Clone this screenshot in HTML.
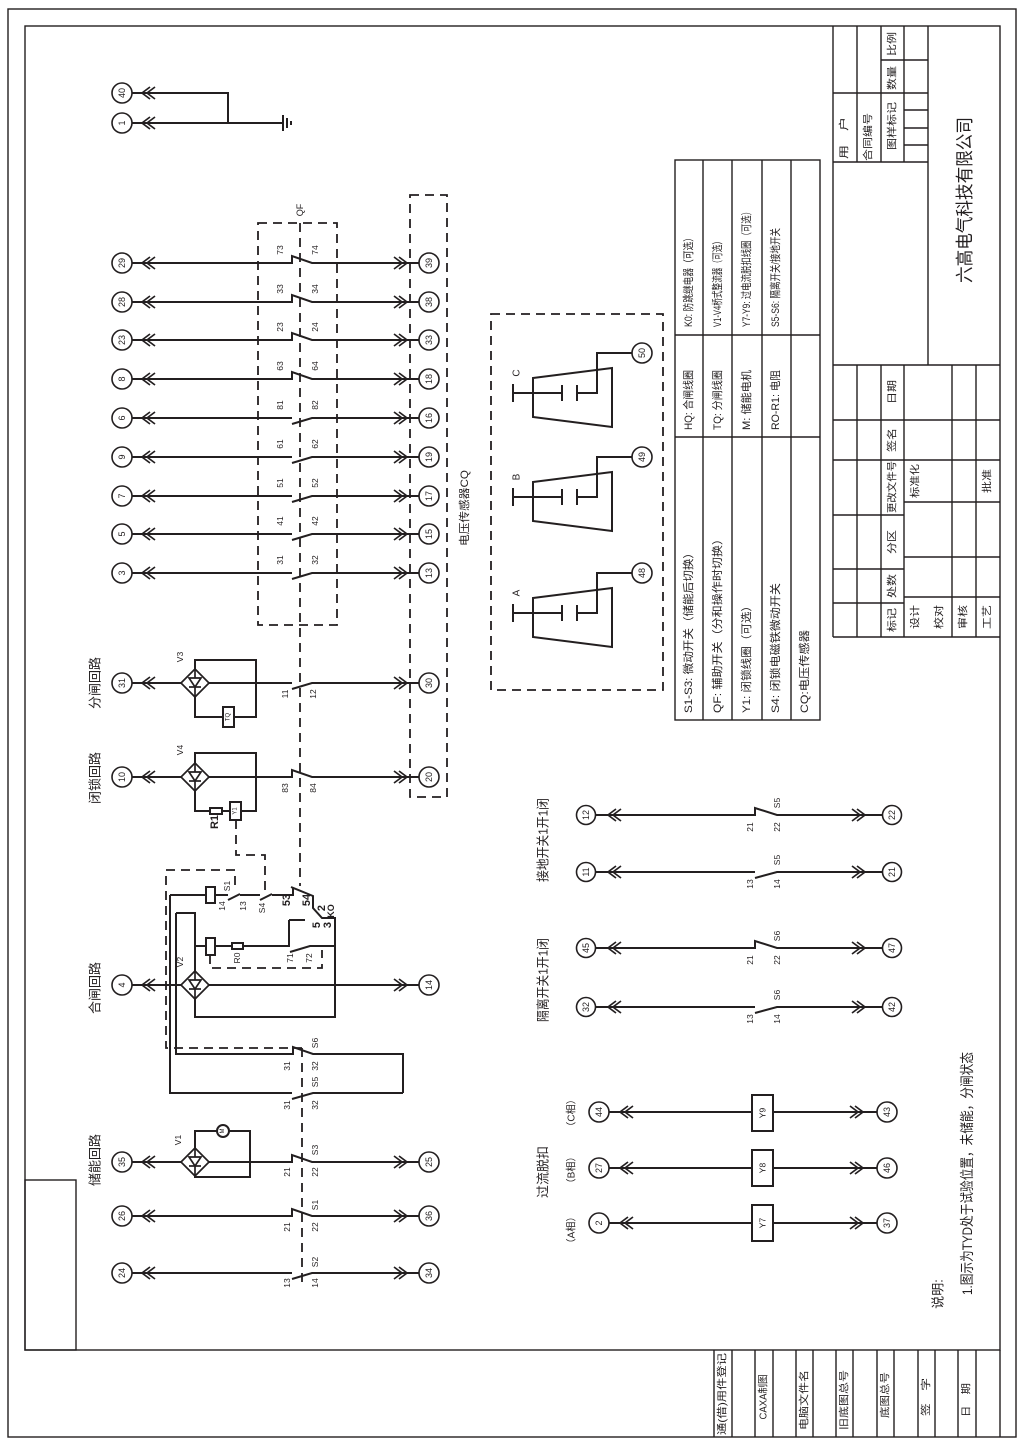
<!DOCTYPE html>
<html><head><meta charset="utf-8">
<style>
html,body{margin:0;padding:0;background:#fff;}
svg{display:block;}
.w{fill:none;stroke:#231f20;stroke-width:2;}
.f{fill:none;stroke:#231f20;stroke-width:1.4;}
.d{fill:none;stroke:#231f20;stroke-width:1.8;stroke-dasharray:9 6;}
.tc{fill:#fff;stroke:#231f20;stroke-width:1.6;}
text{fill:#231f20;font-family:"Liberation Sans Narrow","Liberation Sans","Noto Sans CJK SC",sans-serif;}
.m{text-anchor:middle;dominant-baseline:central;}
.s{text-anchor:start;dominant-baseline:central;}
.n9{font-size:9px;}
.n8{font-size:8.5px;}
.b{font-weight:bold;font-size:11px;}
.c13{font-size:13px;font-family:"Liberation Sans","Noto Sans CJK SC",sans-serif;}
.c11{font-size:11px;font-family:"Liberation Sans","Noto Sans CJK SC",sans-serif;}
.c10{font-size:10px;font-family:"Liberation Sans","Noto Sans CJK SC",sans-serif;}
</style></head>
<body>
<svg width="1024" height="1446" viewBox="0 0 1024 1446" xmlns="http://www.w3.org/2000/svg">
<defs>
<g id="cl" fill="none" stroke="#231f20" stroke-width="1.7"><polyline points="8,-6 0,0 8,6"/><polyline points="13,-6 5,0 13,6"/></g>
<g id="cr" fill="none" stroke="#231f20" stroke-width="1.7"><polyline points="-8,-6 0,0 -8,6"/><polyline points="-13,-6 -5,0 -13,6"/></g>
<g id="dm" fill="#fff" stroke="#231f20" stroke-width="1.7"><polygon points="-14,0 0,-14 14,0 0,14"/><line x1="0" y1="-14" x2="0" y2="14"/><polygon points="-6,-5 6,-5 0,4"/><line x1="-6" y1="4" x2="6" y2="4"/></g>
</defs>

<!-- frames -->
<rect x="8" y="9" width="1008" height="1428" class="f" stroke-width="1.6"/>
<rect x="25" y="26" width="975" height="1324" class="f" stroke-width="1.8"/>
<path class="f" stroke-width="1.8" d="M1000,1350V1437"/>
<rect x="25" y="1180" width="51" height="170" class="f" stroke-width="1.6"/>

<!-- bottom strip -->
<path class="f" d="M714,1350V1437M732,1350V1437M755,1350V1437M773,1350V1437M796,1350V1437M813,1350V1437M836,1350V1437M853,1350V1437M877,1350V1437M894,1350V1437M918,1350V1437M935,1350V1437M958,1350V1437M976,1350V1437"/>
<g class="c10 m">
<text transform="translate(723,1394) rotate(-90)" textLength="82" lengthAdjust="spacingAndGlyphs">通(借)用件登记</text>
<text transform="translate(764,1397) rotate(-90)" textLength="45" lengthAdjust="spacingAndGlyphs">CAXA制图</text>
<text transform="translate(805,1400) rotate(-90)" textLength="60" lengthAdjust="spacingAndGlyphs">电脑文件名</text>
<text transform="translate(845,1400) rotate(-90)" textLength="60" lengthAdjust="spacingAndGlyphs">旧底图总号</text>
<text transform="translate(886,1395) rotate(-90)" textLength="46" lengthAdjust="spacingAndGlyphs">底图总号</text>
<text transform="translate(927,1397) rotate(-90)" textLength="38" lengthAdjust="spacingAndGlyphs">签　字</text>
<text transform="translate(967,1400) rotate(-90)" textLength="34" lengthAdjust="spacingAndGlyphs">日　期</text>
</g>

<!-- title block -->
<path class="f" stroke-width="1.6" d="M833,26V637M928,26V365M833,365H1000M833,637H1000
M857,26V162M881,26V162M904,26V162M833,93H928M833,162H928M881,60H928M904,110H928M904,128H928M904,145H928
M857,365V637M881,365V637M904,365V637M952,365V637M976,365V637
M833,420H1000M833,460H1000M904,502H1000M833,515H904M904,557H1000M833,569H904M904,597H1000M833,603H904"/>
<g class="c10 m">
<text transform="translate(845,138) rotate(-90)" textLength="42" lengthAdjust="spacingAndGlyphs">用　户</text>
<text transform="translate(869,137) rotate(-90)" textLength="48" lengthAdjust="spacingAndGlyphs">合同编号</text>
<text transform="translate(893,126) rotate(-90)" textLength="48" lengthAdjust="spacingAndGlyphs">图样标记</text>
<text transform="translate(893,78) rotate(-90)" textLength="24" lengthAdjust="spacingAndGlyphs">数量</text>
<text transform="translate(893,44) rotate(-90)" textLength="24" lengthAdjust="spacingAndGlyphs">比例</text>
<text transform="translate(893,392) rotate(-90)" textLength="24" lengthAdjust="spacingAndGlyphs">日期</text>
<text transform="translate(893,440) rotate(-90)" textLength="24" lengthAdjust="spacingAndGlyphs">签名</text>
<text transform="translate(893,487) rotate(-90)" textLength="52" lengthAdjust="spacingAndGlyphs">更改文件号</text>
<text transform="translate(916,481) rotate(-90)" textLength="34" lengthAdjust="spacingAndGlyphs">标准化</text>
<text transform="translate(988,481) rotate(-90)" textLength="24" lengthAdjust="spacingAndGlyphs">批准</text>
<text transform="translate(893,542) rotate(-90)" textLength="24" lengthAdjust="spacingAndGlyphs">分区</text>
<text transform="translate(893,586) rotate(-90)" textLength="24" lengthAdjust="spacingAndGlyphs">处数</text>
<text transform="translate(893,620) rotate(-90)" textLength="24" lengthAdjust="spacingAndGlyphs">标记</text>
<text transform="translate(916,617) rotate(-90)" textLength="24" lengthAdjust="spacingAndGlyphs">设计</text>
<text transform="translate(940,617) rotate(-90)" textLength="24" lengthAdjust="spacingAndGlyphs">校对</text>
<text transform="translate(964,617) rotate(-90)" textLength="24" lengthAdjust="spacingAndGlyphs">审核</text>
<text transform="translate(988,617) rotate(-90)" textLength="24" lengthAdjust="spacingAndGlyphs">工艺</text>
</g>
<text class="m" style="font-size:18px;font-family:'Liberation Sans','Noto Sans CJK SC',sans-serif" transform="translate(965,200) rotate(-90)" textLength="166" lengthAdjust="spacingAndGlyphs">六高电气科技有限公司</text>

<!-- legend table -->
<rect x="675" y="160" width="145" height="560" class="f" stroke-width="1.8"/>
<path class="f" stroke-width="1.6" d="M703,160V720M732,160V720M762,160V720M791,160V720M675,335H820M675,437H820"/>
<g class="c11 s">
<text transform="translate(689,327) rotate(-90)" textLength="94" lengthAdjust="spacingAndGlyphs">K0: 防跳继电器（可选）</text>
<text transform="translate(718,327) rotate(-90)" textLength="90" lengthAdjust="spacingAndGlyphs">V1-V4桥式整流器（可选）</text>
<text transform="translate(747,327) rotate(-90)" textLength="120" lengthAdjust="spacingAndGlyphs">Y7-Y9: 过电流脱扣线圈（可选）</text>
<text transform="translate(776,327) rotate(-90)" textLength="99" lengthAdjust="spacingAndGlyphs">S5-S6: 隔离开关/接地开关</text>
<text transform="translate(689,430) rotate(-90)" textLength="60" lengthAdjust="spacingAndGlyphs">HQ: 合闸线圈</text>
<text transform="translate(718,430) rotate(-90)" textLength="60" lengthAdjust="spacingAndGlyphs">TQ: 分闸线圈</text>
<text transform="translate(747,430) rotate(-90)" textLength="60" lengthAdjust="spacingAndGlyphs">M: 储能电机</text>
<text transform="translate(776,430) rotate(-90)" textLength="60" lengthAdjust="spacingAndGlyphs">RO-R1: 电阻</text>
<text transform="translate(689,713) rotate(-90)" textLength="166" lengthAdjust="spacingAndGlyphs">S1-S3: 微动开关（储能后切换）</text>
<text transform="translate(718,713) rotate(-90)" textLength="180" lengthAdjust="spacingAndGlyphs">QF: 辅助开关（分和操作时切换）</text>
<text transform="translate(747,713) rotate(-90)" textLength="113" lengthAdjust="spacingAndGlyphs">Y1: 闭锁线圈（可选）</text>
<text transform="translate(776,713) rotate(-90)" textLength="130" lengthAdjust="spacingAndGlyphs">S4: 闭锁电磁铁微动开关</text>
<text transform="translate(805,713) rotate(-90)" textLength="83" lengthAdjust="spacingAndGlyphs">CQ:电压传感器</text>
</g>

<!-- ground + 40/1 -->
<path class="w" d="M132,93H228V123M132,123H283M283,115V131M287,118V128M291,121V125"/>
<use href="#cl" x="142" y="93"/><use href="#cl" x="142" y="123"/>

<!-- QF rows -->
<path class="w" d="M132,263H292V256L312,263H419
M132,302H292V295L312,302H419
M132,340H292V333L312,340H419
M132,379H292V372L312,379H419
M132,418H292M292,424L312,418H419
M132,457H292M292,463L312,457H419
M132,496H292M292,502L312,496H419
M132,534H292M292,540L312,534H419
M132,573H292M292,579L312,573H419"/>
<g>
<use href="#cl" x="142" y="263"/><use href="#cl" x="142" y="302"/><use href="#cl" x="142" y="340"/><use href="#cl" x="142" y="379"/><use href="#cl" x="142" y="418"/><use href="#cl" x="142" y="457"/><use href="#cl" x="142" y="496"/><use href="#cl" x="142" y="534"/><use href="#cl" x="142" y="573"/>
<use href="#cr" x="407" y="263"/><use href="#cr" x="407" y="302"/><use href="#cr" x="407" y="340"/><use href="#cr" x="407" y="379"/><use href="#cr" x="407" y="418"/><use href="#cr" x="407" y="457"/><use href="#cr" x="407" y="496"/><use href="#cr" x="407" y="534"/><use href="#cr" x="407" y="573"/>
</g>
<g class="n8 m">
<text transform="translate(280,250) rotate(-90)">73</text><text transform="translate(315,250) rotate(-90)">74</text>
<text transform="translate(280,289) rotate(-90)">33</text><text transform="translate(315,289) rotate(-90)">34</text>
<text transform="translate(280,327) rotate(-90)">23</text><text transform="translate(315,327) rotate(-90)">24</text>
<text transform="translate(280,366) rotate(-90)">63</text><text transform="translate(315,366) rotate(-90)">64</text>
<text transform="translate(280,405) rotate(-90)">81</text><text transform="translate(315,405) rotate(-90)">82</text>
<text transform="translate(280,444) rotate(-90)">61</text><text transform="translate(315,444) rotate(-90)">62</text>
<text transform="translate(280,483) rotate(-90)">51</text><text transform="translate(315,483) rotate(-90)">52</text>
<text transform="translate(280,521) rotate(-90)">41</text><text transform="translate(315,521) rotate(-90)">42</text>
<text transform="translate(280,560) rotate(-90)">31</text><text transform="translate(315,560) rotate(-90)">32</text>
</g>
<rect x="258" y="223" width="79" height="402" class="d"/>
<rect x="410" y="195" width="37" height="602" class="d"/>
<path class="d" d="M300,223V886M302,1048V1287"/>
<text class="n9 m" transform="translate(300,210) rotate(-90)">QF</text>
<text class="c11 m" transform="translate(465,508) rotate(-90)" textLength="76" lengthAdjust="spacingAndGlyphs">电压传感器CQ</text>

<!-- lower left rows -->
<path class="w" d="M132,683H181M209,683H292M292,689L312,683H419
M132,777H181M209,777H292V770L312,777H419
M132,985H181M209,985H419
M132,1162H181M209,1162H292V1155L312,1162H419
M132,1216H292V1209L312,1216H419
M132,1273H292M292,1279L312,1273H419"/>
<use href="#cl" x="142" y="683"/><use href="#cl" x="142" y="777"/><use href="#cl" x="142" y="985"/><use href="#cl" x="142" y="1162"/><use href="#cl" x="142" y="1216"/><use href="#cl" x="142" y="1273"/>
<use href="#cr" x="407" y="683"/><use href="#cr" x="407" y="777"/><use href="#cr" x="407" y="985"/><use href="#cr" x="407" y="1162"/><use href="#cr" x="407" y="1216"/><use href="#cr" x="407" y="1273"/>

<!-- V3 -->
<path class="w" d="M195,669V660H256V717H234M223,717H195V697"/>
<rect x="223" y="707" width="11" height="20" class="w" fill="#fff"/>
<text transform="translate(228.5,717) rotate(-90)" class="m" style="font-size:6px">TQ</text>
<!-- V4 -->
<path class="w" d="M195,763V753H256V811H241M230,811H222M210,811H195V791"/>
<rect x="210" y="808" width="12" height="6" class="w" fill="#fff"/>
<rect x="230" y="802" width="11" height="18" class="w" fill="#fff"/>
<text transform="translate(235.5,811) rotate(-90)" class="m" style="font-size:6px">Y1</text>
<path class="d" d="M236,820V855H265V890"/>

<!-- closing circuit -->
<path class="w" d="M170,895H206M215,895H228M228,900L240,894M240,895H260M260,900L272,894M272,895H293V888M291,887L313,896V908L322,918H335V1017H195V999M195,971V913H176
M195,946H206M215,946H232M243,946H290M290,952L310,946H335M289,920H305M289,920V946
M176,913V1054H293V1047L313,1054H403V1093M170,895V1093H292M292,1099L313,1093H403"/>
<rect x="206" y="887" width="9" height="16" class="w" fill="#fff"/>
<rect x="206" y="938" width="9" height="17" class="w" fill="#fff"/>
<rect x="232" y="943" width="11" height="6" class="w" fill="#fff"/>
<path class="d" d="M210,955V968H322V950M235,885V870H166V1048H302"/>

<!-- V1 -->
<path class="w" d="M195,1148V1131H217M229,1131H250V1177H195V1176"/>
<circle cx="223" cy="1131" r="6" class="w" fill="#fff"/>
<text transform="translate(223,1131) rotate(-90)" class="m" style="font-size:6px">M</text>

<use href="#dm" x="195" y="683"/><use href="#dm" x="195" y="777"/><use href="#dm" x="195" y="985"/><use href="#dm" x="195" y="1162"/>

<g class="n8 m">
<text transform="translate(180,657) rotate(-90)">V3</text>
<text transform="translate(180,750) rotate(-90)">V4</text>
<text transform="translate(180,962) rotate(-90)">V2</text>
<text transform="translate(178,1140) rotate(-90)">V1</text>
<text transform="translate(285,694) rotate(-90)">11</text><text transform="translate(313,694) rotate(-90)">12</text>
<text transform="translate(285,788) rotate(-90)">83</text><text transform="translate(313,788) rotate(-90)">84</text>
<text transform="translate(222,906) rotate(-90)">14</text><text transform="translate(243,906) rotate(-90)">13</text>
<text transform="translate(227,886) rotate(-90)">S1</text>
<text transform="translate(262,908) rotate(-90)">S4</text>
<text transform="translate(290,958) rotate(-90)">71</text><text transform="translate(309,958) rotate(-90)">72</text>
<text transform="translate(237,958) rotate(-90)">R0</text>
<text transform="translate(287,1066) rotate(-90)">31</text><text transform="translate(315,1066) rotate(-90)">32</text><text transform="translate(315,1043) rotate(-90)">S6</text>
<text transform="translate(287,1105) rotate(-90)">31</text><text transform="translate(315,1105) rotate(-90)">32</text><text transform="translate(315,1082) rotate(-90)">S5</text>
<text transform="translate(287,1172) rotate(-90)">21</text><text transform="translate(315,1172) rotate(-90)">22</text><text transform="translate(315,1150) rotate(-90)">S3</text>
<text transform="translate(287,1227) rotate(-90)">21</text><text transform="translate(315,1227) rotate(-90)">22</text><text transform="translate(315,1205) rotate(-90)">S1</text>
<text transform="translate(287,1283) rotate(-90)">13</text><text transform="translate(315,1283) rotate(-90)">14</text><text transform="translate(315,1262) rotate(-90)">S2</text>
</g>
<g class="b m">
<text transform="translate(215,822) rotate(-90)">R1</text>
<text transform="translate(287,900) rotate(-90)">53</text>
<text transform="translate(307,900) rotate(-90)">54</text>
<text transform="translate(322,908) rotate(-90)">2</text>
<text transform="translate(331,911) rotate(-90)" style="font-size:9px">KO</text>
<text transform="translate(317,925) rotate(-90)">5</text>
<text transform="translate(328,925) rotate(-90)">3</text>
</g>

<g class="c13 m">
<text transform="translate(95,683) rotate(-90)">分闸回路</text>
<text transform="translate(95,778) rotate(-90)">闭锁回路</text>
<text transform="translate(95,988) rotate(-90)">合闸回路</text>
<text transform="translate(95,1160) rotate(-90)">储能回路</text>
<text transform="translate(543,840) rotate(-90)" textLength="84" lengthAdjust="spacingAndGlyphs">接地开关1开1闭</text>
<text transform="translate(543,980) rotate(-90)" textLength="84" lengthAdjust="spacingAndGlyphs">隔离开关1开1闭</text>
<text transform="translate(543,1172) rotate(-90)">过流脱扣</text>
</g>
<g class="c10 m">
<text transform="translate(572,1113) rotate(-90)">（C相）</text>
<text transform="translate(572,1170) rotate(-90)">（B相）</text>
<text transform="translate(572,1230) rotate(-90)">（A相）</text>
</g>

<!-- middle switch rows -->
<path class="w" d="M595,815H755V808L777,815H883
M595,872H755M755,878L777,872H883
M595,948H755V941L777,948H883
M595,1007H755M755,1013L777,1007H883
M609,1112H752M773,1112H877
M609,1168H752M773,1168H877
M609,1223H752M773,1223H877"/>
<use href="#cl" x="608" y="815"/><use href="#cl" x="608" y="872"/><use href="#cl" x="608" y="948"/><use href="#cl" x="608" y="1007"/>
<use href="#cr" x="865" y="815"/><use href="#cr" x="865" y="872"/><use href="#cr" x="865" y="948"/><use href="#cr" x="865" y="1007"/>
<use href="#cl" x="620" y="1112"/><use href="#cl" x="620" y="1168"/><use href="#cl" x="620" y="1223"/>
<use href="#cr" x="863" y="1112"/><use href="#cr" x="863" y="1168"/><use href="#cr" x="863" y="1223"/>
<rect x="752" y="1095" width="21" height="36" class="w" fill="#fff"/>
<rect x="752" y="1150" width="21" height="36" class="w" fill="#fff"/>
<rect x="752" y="1205" width="21" height="36" class="w" fill="#fff"/>
<g class="n8 m">
<text transform="translate(762.5,1113) rotate(-90)">Y9</text>
<text transform="translate(762.5,1168) rotate(-90)">Y8</text>
<text transform="translate(762.5,1223) rotate(-90)">Y7</text>
<text transform="translate(750,827) rotate(-90)">21</text><text transform="translate(777,827) rotate(-90)">22</text><text transform="translate(777,803) rotate(-90)">S5</text>
<text transform="translate(750,884) rotate(-90)">13</text><text transform="translate(777,884) rotate(-90)">14</text><text transform="translate(777,860) rotate(-90)">S5</text>
<text transform="translate(750,960) rotate(-90)">21</text><text transform="translate(777,960) rotate(-90)">22</text><text transform="translate(777,936) rotate(-90)">S6</text>
<text transform="translate(750,1019) rotate(-90)">13</text><text transform="translate(777,1019) rotate(-90)">14</text><text transform="translate(777,995) rotate(-90)">S6</text>
</g>

<!-- CT box -->
<rect x="491" y="314" width="172" height="376" class="d"/>
<path class="w" d="M513,384V402M513,393H562M562,385V401M577,385V401M577,393H597V353H632
M513,488V506M513,497H562M562,489V505M577,489V505M577,497H597V457H632
M513,604V622M513,613H562M562,605V621M577,605V621M577,613H597V573H632"/>
<polygon class="w" points="533,378 612,368 612,427 533,417"/>
<polygon class="w" points="533,482 612,472 612,531 533,521"/>
<polygon class="w" points="533,598 612,588 612,647 533,637"/>
<g class="c10 m">
<text transform="translate(517,373) rotate(-90)">C</text>
<text transform="translate(517,477) rotate(-90)">B</text>
<text transform="translate(517,593) rotate(-90)">A</text>
</g>

<!-- terminal circles -->
<g class="tc">
<circle cx="122" cy="93" r="10"/><circle cx="122" cy="123" r="10"/>
<circle cx="122" cy="263" r="10"/><circle cx="122" cy="302" r="10"/><circle cx="122" cy="340" r="10"/><circle cx="122" cy="379" r="10"/><circle cx="122" cy="418" r="10"/><circle cx="122" cy="457" r="10"/><circle cx="122" cy="496" r="10"/><circle cx="122" cy="534" r="10"/><circle cx="122" cy="573" r="10"/>
<circle cx="122" cy="683" r="10"/><circle cx="122" cy="777" r="10"/><circle cx="122" cy="985" r="10"/><circle cx="122" cy="1162" r="10"/><circle cx="122" cy="1216" r="10"/><circle cx="122" cy="1273" r="10"/>
<circle cx="429" cy="263" r="10"/><circle cx="429" cy="302" r="10"/><circle cx="429" cy="340" r="10"/><circle cx="429" cy="379" r="10"/><circle cx="429" cy="418" r="10"/><circle cx="429" cy="457" r="10"/><circle cx="429" cy="496" r="10"/><circle cx="429" cy="534" r="10"/><circle cx="429" cy="573" r="10"/>
<circle cx="429" cy="683" r="10"/><circle cx="429" cy="777" r="10"/><circle cx="429" cy="985" r="10"/><circle cx="429" cy="1162" r="10"/><circle cx="429" cy="1216" r="10"/><circle cx="429" cy="1273" r="10"/>
<circle cx="586" cy="815" r="9.5"/><circle cx="586" cy="872" r="9.5"/><circle cx="586" cy="948" r="9.5"/><circle cx="586" cy="1007" r="9.5"/>
<circle cx="892" cy="815" r="9.5"/><circle cx="892" cy="872" r="9.5"/><circle cx="892" cy="948" r="9.5"/><circle cx="892" cy="1007" r="9.5"/>
<circle cx="599" cy="1112" r="10"/><circle cx="599" cy="1168" r="10"/><circle cx="599" cy="1223" r="10"/>
<circle cx="887" cy="1112" r="10"/><circle cx="887" cy="1168" r="10"/><circle cx="887" cy="1223" r="10"/>
<circle cx="642" cy="353" r="10"/><circle cx="642" cy="457" r="10"/><circle cx="642" cy="573" r="10"/>
</g>
<g class="n9 m">
<text transform="translate(122,93) rotate(-90)">40</text><text transform="translate(122,123) rotate(-90)">1</text>
<text transform="translate(122,263) rotate(-90)">29</text><text transform="translate(122,302) rotate(-90)">28</text><text transform="translate(122,340) rotate(-90)">23</text><text transform="translate(122,379) rotate(-90)">8</text><text transform="translate(122,418) rotate(-90)">6</text><text transform="translate(122,457) rotate(-90)">9</text><text transform="translate(122,496) rotate(-90)">7</text><text transform="translate(122,534) rotate(-90)">5</text><text transform="translate(122,573) rotate(-90)">3</text>
<text transform="translate(122,683) rotate(-90)">31</text><text transform="translate(122,777) rotate(-90)">10</text><text transform="translate(122,985) rotate(-90)">4</text><text transform="translate(122,1162) rotate(-90)">35</text><text transform="translate(122,1216) rotate(-90)">26</text><text transform="translate(122,1273) rotate(-90)">24</text>
<text transform="translate(429,263) rotate(-90)">39</text><text transform="translate(429,302) rotate(-90)">38</text><text transform="translate(429,340) rotate(-90)">33</text><text transform="translate(429,379) rotate(-90)">18</text><text transform="translate(429,418) rotate(-90)">16</text><text transform="translate(429,457) rotate(-90)">19</text><text transform="translate(429,496) rotate(-90)">17</text><text transform="translate(429,534) rotate(-90)">15</text><text transform="translate(429,573) rotate(-90)">13</text>
<text transform="translate(429,683) rotate(-90)">30</text><text transform="translate(429,777) rotate(-90)">20</text><text transform="translate(429,985) rotate(-90)">14</text><text transform="translate(429,1162) rotate(-90)">25</text><text transform="translate(429,1216) rotate(-90)">36</text><text transform="translate(429,1273) rotate(-90)">34</text>
<text transform="translate(586,815) rotate(-90)">12</text><text transform="translate(586,872) rotate(-90)">11</text><text transform="translate(586,948) rotate(-90)">45</text><text transform="translate(586,1007) rotate(-90)">32</text>
<text transform="translate(892,815) rotate(-90)">22</text><text transform="translate(892,872) rotate(-90)">21</text><text transform="translate(892,948) rotate(-90)">47</text><text transform="translate(892,1007) rotate(-90)">42</text>
<text transform="translate(599,1112) rotate(-90)">44</text><text transform="translate(599,1168) rotate(-90)">27</text><text transform="translate(599,1223) rotate(-90)">2</text>
<text transform="translate(887,1112) rotate(-90)">43</text><text transform="translate(887,1168) rotate(-90)">46</text><text transform="translate(887,1223) rotate(-90)">37</text>
<text transform="translate(642,353) rotate(-90)">50</text><text transform="translate(642,457) rotate(-90)">49</text><text transform="translate(642,573) rotate(-90)">48</text>
</g>

<!-- notes -->
<text class="c13 m" transform="translate(938,1294) rotate(-90)">说明:</text>
<text class="c13 s" style="font-size:14px" transform="translate(967,1295) rotate(-90)" textLength="243" lengthAdjust="spacingAndGlyphs">1.图示为TYD处于试验位置，未储能，分闸状态</text>
</svg>
</body></html>
